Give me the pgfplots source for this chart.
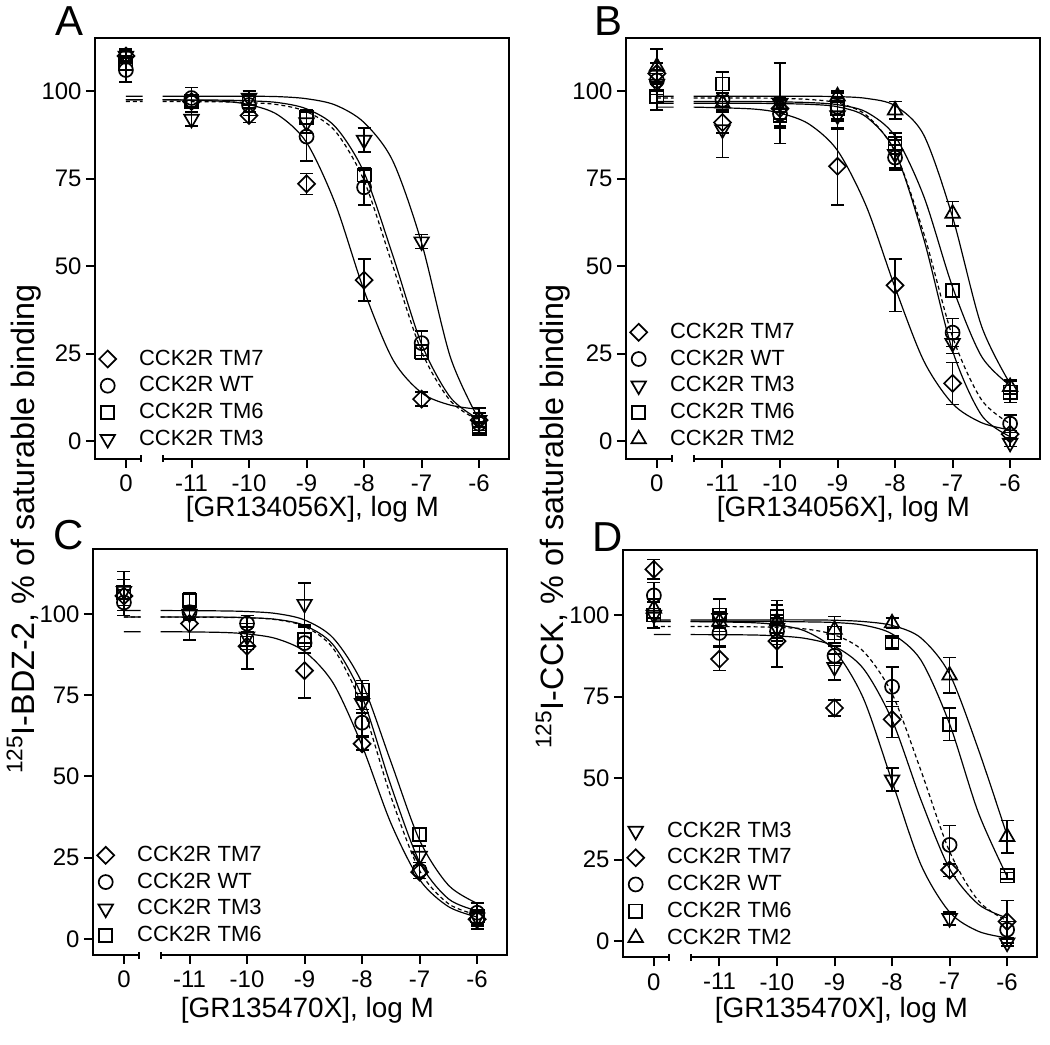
\documentclass[border=0pt]{standalone}
\usepackage{fontspec}
\setmainfont{Liberation Sans}
\usepackage{pgfplots}
\usepackage{pgfplotstable}
\pgfplotsset{compat=1.18}

% measured points: mean and error (SEM), x = log M, x=0 is the "no ligand" column
\pgfplotstableread{
x    tm7   tm7e  wt    wte   tm6   tm6e  tm3   tm3e
0    110   1.5   106   3.5   108   2     110   2
-11  97    1.5   98    3     97    2     92    2
-10  93    2     96    3     97    3     98    2
-9   73.5  3     87    7     92.5  2     91    3
-8   46    6     72.5  5     76    2     86    3.5
-7   12    2     28    3.5   25.5  2     57    2
-6   6     2     5     2     3.5   1.5   6     3.5
}\dataA
\pgfplotstableread{
x      tm7   wt    tm6   tm3
0      97.5  97.0  97.5  98.5
-11.85 97.5  97.0  97.5  98.5
-11.7  nan   nan   nan   nan
-11.5  97.5  97.0  97.5  98.5
-10.5  97.1  96.9  97.4  98.5
-10    96.1  96.7  97.2  98.5
-9.5   93.2  96.1  96.7  98.4
-9     85.3  94.1  94.9  97.8
-8.5   67.8  88.5  89.8  96.0
-8     43.0  74.4  76.7  91.0
-7.5   23.3  50.0  53.0  80.0
-7     13.8  25.6  27.7  56.6
-6.5   10.3  11.5  12.5  24.0
-6     9.1   5.9   6.2   6.0
}\fitA

\pgfplotstableread{
x    tm7   tm7e  wt    wte   tm3   tm3e  tm6   tm6e  tm2   tm2e
0    105   3     103   3     102   3     98.5  4     107   5
-11  91    3     97.5  2     89    8     102   3.5   96.5  2
-10  95    3     93.5  4     96.5  11.5  93    3     96    2
-9   78.5  11    95.5  4     93    4     95    3     98.5  1.5
-8   44.5  7.5   81    3.5   82    4     85    3     94.5  2.5
-7   16.5  6     31    4     28    3     43    2     65    3.5
-6   2     1     5     2.5   -0.5  1     14    3     15.5  2
}\dataB
\pgfplotstableread{
x      tm7   wt    tm3   tm6   tm2
0      95.4  98.0  96.5  97.0  98.5
-11.85 95.4  98.0  96.5  97.0  98.5
-11.7  nan   nan   nan   nan   nan
-11.5  95.4  98.0  96.5  97.0  98.5
-10.5  94.9  98.0  96.5  97.0  98.5
-10    93.7  97.9  96.4  96.9  98.5
-9.5   90.6  97.6  96.2  96.7  98.5
-9     83.0  96.6  95.5  96.1  98.4
-8.5   67.1  93.1  92.6  94.0  97.9
-8     43.9  82.6  82.7  87.1  95.8
-7.5   22.9  59.3  57.7  69.9  87.4
-7     10.7  29.8  25.8  44.0  64.0
-6.5   5.3   11.9  7.5   24.3  33.0
-6     3.2   5.0   1.3   15.9  16.4
}\fitB

\pgfplotstableread{
x    tm7   tm7e  wt    wte   tm3   tm3e  tm6   tm6e
0    105.5 3     103.5 4     107   6     106.5 4
-11  97    5     100.5 2     100   2     104   2.5
-10  90    7     97    2.5   93    3     91    2
-9   82.5  8.5   91    3     103   6.5   92    4
-8   60    2     66.5  4     72.5  3     76.5  3
-7   20.5  2     21    2.5   25.5  3     32    2
-6   6     2     8     3     6.5   2     7     4
}\dataC
\pgfplotstableread{
x      tm7   wt    tm3   tm6
0      94.5  99.0  99.0  101.0
-11.85 94.5  99.0  99.0  101.0
-11.7  nan   nan   nan   nan
-11.5  94.5  99.0  99.0  101.0
-10.5  94.3  98.9  99.0  100.9
-10    93.8  98.8  98.8  100.7
-9.5   92.4  98.2  98.3  100.1
-9     88.4  96.1  96.4  98.1
-8.5   78.6  89.3  90.4  92.5
-8     59.4  71.8  74.5  78.7
-7.5   35.6  43.8  47.2  54.5
-7     18.2  21.0  23.6  30.3
-6.5   9.9   10.8  12.3  16.5
-6     6.7   7.4   8.6   10.9
}\fitC

\pgfplotstableread{
x    tm3   tm3e  tm7   tm7e  wt    wte   tm6   tm6e  tm2   tm2e
0    100   4     114   3     106   4     100   2     102   3
-11  99    3     86.5  3.5   94.5  4     100   5     98    3
-10  96    4     92    8     95    4     99.5  5     98    5
-9   84    4     71.5  2.5   87.5  3     94.5  2     95.5  4
-8   49.5  3.5   68    5.5   78    6     91.5  1.5   97.5  1.5
-7   7     2     21.8  2     29.5  6     66.5  5     81.5  5.5
-6   -0.5  1     6     6.5   3.5   2.5   20    1     32    5
}\dataD
\pgfplotstableread{
x      tm3   tm7   wt    tm6   tm2
0      98.0  94.0  96.5  98.0  98.5
-11.85 98.0  94.0  96.5  98.0  98.5
-11.7  nan   nan   nan   nan   nan
-11.5  98.0  94.0  96.5  98.0  98.5
-10.5  97.7  93.9  96.4  98.0  98.5
-10    97.0  93.6  96.2  98.0  98.5
-9.5   95.0  92.8  95.7  97.9  98.5
-9     89.1  90.4  93.9  97.7  98.4
-8.5   74.5  83.6  88.9  96.9  98.0
-8     49.0  67.8  75.9  94.2  96.8
-7.5   23.5  43.4  52.4  86.2  93.0
-7     8.9   22.2  27.5  66.6  81.9
-6.5   3.0   11.3  12.4  39.4  58.8
-6     1.0   7.1   6.2   19.8  32.4
}\fitD

\pgfplotsset{
  panel/.style={
    scale only axis, anchor=south west, width=207.5pt,
    xmin=-12.68, xmax=-5.48, ymin=-5,
    % broken x axis: the x=0 column sits left of the break
    x coord trafo/.code={\ifdim##1pt=0pt\relax\def\pgfmathresult{-12.14}\else\def\pgfmathresult{##1}\fi},
    xtick={0,-11,-10,-9,-8,-7,-6}, xticklabels={0,-11,-10,-9,-8,-7,-6},
    ytick={0,25,50,75,100},
    /pgf/number format/assume math mode=true,
    tick align=outside, tick pos=left, major tick length=4.5pt,
    axis line style={line width=1pt}, every tick/.style={black, line width=1pt},
    tick label style={font=\fontsize{12}{14}\selectfont},
    yticklabel style={inner xsep=2pt},
    clip=false,
    legend cell align=left,
    legend style={draw=none, fill=none, at={(axis description cs:0,0)}, anchor=south west,
      xshift=-1pt, yshift=1.5pt, font=\fontsize{11}{13}\selectfont,
      row sep=1.2pt, column sep=10pt, nodes={inner sep=1.5pt}},
  },
  fit/.style={black, line width=0.6pt, smooth, no markers, unbounded coords=jump, forget plot},
  wtfit/.style={fit, dash pattern=on 2pt off 1.5pt},
  pts/.style={black, only marks, line width=0.85pt,
    error bars/y dir=both, error bars/y explicit,
    error bars/error bar style={line width=0.8pt, solid},
    error bars/error mark options={rotate=90, mark size=3.25pt, line width=0.8pt}},
  mTM7/.style={mark=square, mark size=3pt, mark options={rotate=45, solid}},
  mWT/.style={mark=o, mark size=3.5pt},
  mTM6/.style={mark=square, mark size=3.3pt},
  mTM3/.style={mark=triangle, mark size=4.2pt, mark options={rotate=180, solid}},
  mTM2/.style={mark=triangle, mark size=4.2pt},
}
\newcommand\axisbreak{%
  \draw[white, line width=2.5pt] (axis cs:-11.87,-5) -- (axis cs:-11.51,-5);
  \draw[line width=1pt] (axis cs:-11.88,-5) ++(0pt,-1.75pt) -- ++(0pt,3.5pt);
  \draw[line width=1pt] (axis cs:-11.5,-5) ++(0pt,-1.75pt) -- ++(0pt,3.5pt);
}

\begin{document}
\begin{tikzpicture}
\begin{scope}[x=0.5pt,y=-0.5pt]
  \useasboundingbox (0,0) rectangle (1050,1039);
\end{scope}

% A
\begin{axis}[panel, at={(46.5pt,-226pt)}, height=210.5pt, ymax=115]
  \addplot[fit] table[x=x,y=tm7] \fitA;
  \addplot[wtfit] table[x=x,y=wt] \fitA;
  \addplot[fit] table[x=x,y=tm6] \fitA;
  \addplot[fit] table[x=x,y=tm3] \fitA;
  \addplot[pts, mTM7] table[x=x,y=tm7,y error=tm7e] \dataA; \addlegendentry{CCK2R TM7}
  \addplot[pts, mWT] table[x=x,y=wt,y error=wte] \dataA; \addlegendentry{CCK2R WT}
  \addplot[pts, mTM6] table[x=x,y=tm6,y error=tm6e] \dataA; \addlegendentry{CCK2R TM6}
  \addplot[pts, mTM3] table[x=x,y=tm3,y error=tm3e] \dataA; \addlegendentry{CCK2R TM3}
  \axisbreak
\end{axis}

% B
\begin{axis}[panel, at={(312.5pt,-226pt)}, height=210.5pt, ymax=115]
  \addplot[fit] table[x=x,y=tm7] \fitB;
  \addplot[wtfit] table[x=x,y=wt] \fitB;
  \addplot[fit] table[x=x,y=tm3] \fitB;
  \addplot[fit] table[x=x,y=tm6] \fitB;
  \addplot[fit] table[x=x,y=tm2] \fitB;
  \addplot[pts, mTM7] table[x=x,y=tm7,y error=tm7e] \dataB; \addlegendentry{CCK2R TM7}
  \addplot[pts, mWT] table[x=x,y=wt,y error=wte] \dataB; \addlegendentry{CCK2R WT}
  \addplot[pts, mTM3] table[x=x,y=tm3,y error=tm3e] \dataB; \addlegendentry{CCK2R TM3}
  \addplot[pts, mTM6] table[x=x,y=tm6,y error=tm6e] \dataB; \addlegendentry{CCK2R TM6}
  \addplot[pts, mTM2] table[x=x,y=tm2,y error=tm2e] \dataB; \addlegendentry{CCK2R TM2}
  \axisbreak
\end{axis}

% C
\begin{axis}[panel, at={(45.5pt,-474.65pt)}, height=203.5pt, ymax=120]
  \addplot[fit] table[x=x,y=tm7] \fitC;
  \addplot[wtfit] table[x=x,y=wt] \fitC;
  \addplot[fit] table[x=x,y=tm3] \fitC;
  \addplot[fit] table[x=x,y=tm6] \fitC;
  \addplot[pts, mTM7] table[x=x,y=tm7,y error=tm7e] \dataC; \addlegendentry{CCK2R TM7}
  \addplot[pts, mWT] table[x=x,y=wt,y error=wte] \dataC; \addlegendentry{CCK2R WT}
  \addplot[pts, mTM3] table[x=x,y=tm3,y error=tm3e] \dataC; \addlegendentry{CCK2R TM3}
  \addplot[pts, mTM6] table[x=x,y=tm6,y error=tm6e] \dataC; \addlegendentry{CCK2R TM6}
  \axisbreak
\end{axis}

% D
\begin{axis}[panel, at={(311pt,-475.85pt)}, height=204.2pt, ymax=120]
  \addplot[fit] table[x=x,y=tm3] \fitD;
  \addplot[fit] table[x=x,y=tm7] \fitD;
  \addplot[wtfit] table[x=x,y=wt] \fitD;
  \addplot[fit] table[x=x,y=tm6] \fitD;
  \addplot[fit] table[x=x,y=tm2] \fitD;
  \addplot[pts, mTM3] table[x=x,y=tm3,y error=tm3e] \dataD; \addlegendentry{CCK2R TM3}
  \addplot[pts, mTM7] table[x=x,y=tm7,y error=tm7e] \dataD; \addlegendentry{CCK2R TM7}
  \addplot[pts, mWT] table[x=x,y=wt,y error=wte] \dataD; \addlegendentry{CCK2R WT}
  \addplot[pts, mTM6] table[x=x,y=tm6,y error=tm6e] \dataD; \addlegendentry{CCK2R TM6}
  \addplot[pts, mTM2] table[x=x,y=tm2,y error=tm2e] \dataD; \addlegendentry{CCK2R TM2}
  \axisbreak
\end{axis}

\begin{scope}[x=0.5pt,y=-0.5pt]
  \node[anchor=base, font=\fontsize{21}{24}\selectfont] at (68,28) {A};
  \node[anchor=base, font=\fontsize{21}{24}\selectfont] at (608,28) {B};
  \node[anchor=base, font=\fontsize{21}{24}\selectfont] at (67,543) {C};
  \node[anchor=base, font=\fontsize{21}{24}\selectfont] at (607,545) {D};
  \node[font=\fontsize{14}{16}\selectfont] at (311,503) {[GR134056X], log M};
  \node[font=\fontsize{14}{16}\selectfont] at (843,503) {[GR134056X], log M};
  \node[font=\fontsize{14}{16}\selectfont] at (306,1005) {[GR135470X], log M};
  \node[font=\fontsize{14}{16}\selectfont] at (841,1005) {[GR135470X], log M};
  \node[rotate=90, anchor=base east, font=\fontsize{16.2}{19}\selectfont] at (33,270)
    {\textsuperscript{125}I-BDZ-2, \% of saturable binding};
  \node[rotate=90, anchor=base east, font=\fontsize{16.2}{19}\selectfont] at (563,270)
    {\textsuperscript{125}I-CCK, \% of saturable binding};
\end{scope}
\end{tikzpicture}
\end{document}
